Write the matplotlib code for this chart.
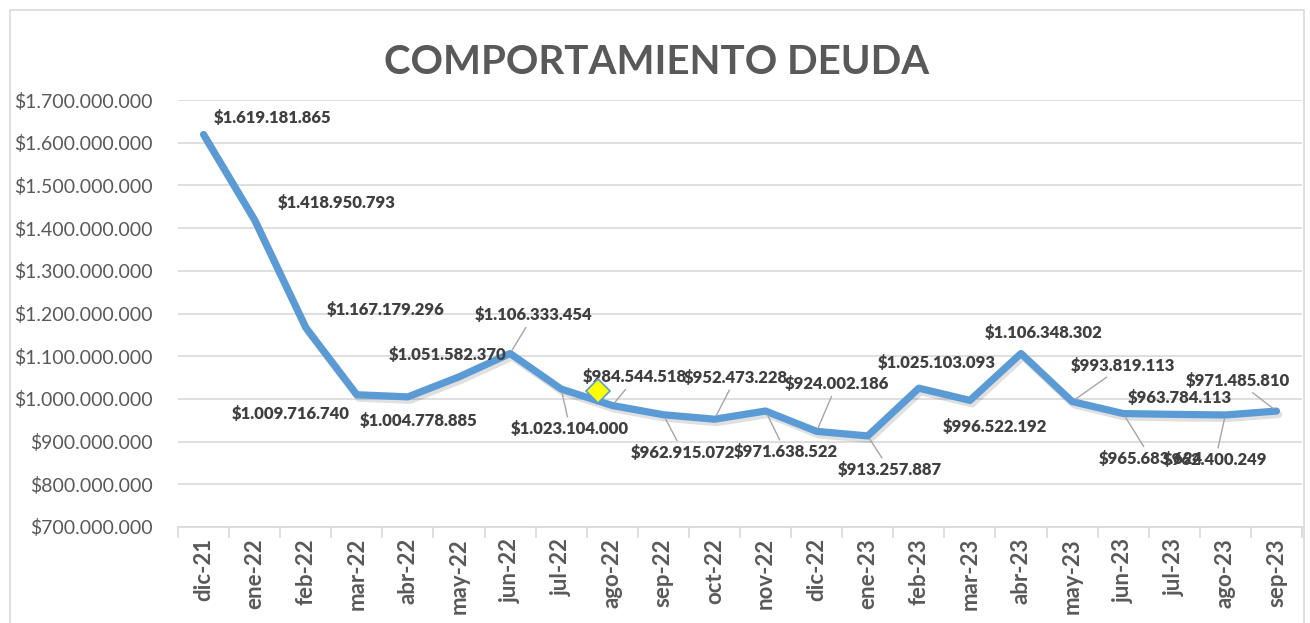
import matplotlib
matplotlib.use('Agg')
import matplotlib.pyplot as plt
import matplotlib.patheffects as pe
from matplotlib.patches import Rectangle
import numpy as np

months = ['dic-21', 'ene-22', 'feb-22', 'mar-22', 'abr-22', 'may-22', 'jun-22', 'jul-22',
          'ago-22', 'sep-22', 'oct-22', 'nov-22', 'dic-22', 'ene-23', 'feb-23', 'mar-23',
          'abr-23', 'may-23', 'jun-23', 'jul-23', 'ago-23', 'sep-23']
deuda = [1619181865, 1418950793, 1167179296, 1009716740, 1004778885, 1051582370,
         1106333454, 1023104000, 984544518, 962915072, 952473228, 971638522,
         924002186, 913257887, 1025103093, 996522192, 1106348302, 993819113,
         965683624, 963784113, 962400249, 971485810]
yticks = np.arange(700_000_000, 1_700_000_001, 100_000_000)

# label offsets in pixels (dx, dy) and whether a leader line is drawn
label_off = [(69, 17), (82, 17), (80, 18), (-66, -19), (11, -24), (-11, 22),
             (23, 38), (9, -40), (23, 28), (20, -38), (21, 41), (20, -41),
             (20, 47), (22, -34), (18, 25), (25, -27), (23, 20), (51, 36),
             (28, -45), (6, 16), (-10, -45), (-39, 30)]
leader = [False, False, False, False, False, False, True, True, True, True, True, True,
          True, True, False, False, False, True, True, False, True, True]

# yellow diamond sitting on the line between jul-22 and ago-22
marker_x = 7.72
marker_y = 1018000000


def fmt(v):
    return '$' + f'{v:,.0f}'.replace(',', '.')


plt.rcParams['font.family'] = ['Lato', 'DejaVu Sans']
W, H = 1310, 623
fig = plt.figure(figsize=(W / 100, H / 100), dpi=100)
fig.patches.append(Rectangle((10 / W, -0.1), (1304 - 10) / W, 1.1 - 10 / H,
                             transform=fig.transFigure, fill=False,
                             edgecolor='#d9d9d9', linewidth=1.2))

ax = fig.add_axes([178 / W, 1 - 527 / H, (1302 - 178) / W, (527 - 100) / H])
x = np.arange(len(months))
ax.plot(x, deuda, color='#5b9bd5', linewidth=5.2, solid_capstyle='round',
        solid_joinstyle='round', zorder=3,
        path_effects=[pe.SimpleLineShadow(offset=(1.5, -2.5), shadow_color='k', alpha=0.12),
                      pe.Normal()])
ax.plot([marker_x], [marker_y], marker='D', markersize=12, color='#ffff00',
        markeredgecolor='#5b9bd5', markeredgewidth=1.2, zorder=5)

for i, v in enumerate(deuda):
    dx, dy = label_off[i]
    props = None
    if leader[i]:
        props = dict(arrowstyle='-', color='#a6a6a6', linewidth=1.0, shrinkA=1, shrinkB=3)
    ax.annotate(fmt(v), (i, v), xytext=(dx, dy), textcoords='offset pixels',
                ha='center', va='center', fontsize=12, fontweight='heavy',
                color='#404040', arrowprops=props, zorder=4)

ax.set_xlim(-0.5, len(months) - 0.5)
ax.set_ylim(700_000_000, 1_700_000_000)
ax.set_yticks(yticks)
ax.set_yticklabels([fmt(v) for v in yticks], fontsize=14, color='#595959')
ax.yaxis.grid(True, color='#d9d9d9', linewidth=1.2)
ax.set_axisbelow(True)
ax.tick_params(axis='y', length=0, pad=18)

ax.set_xticks(x)
ax.set_xticklabels(months, rotation=90, fontsize=16, fontweight='bold', color='#595959')
ax.set_xticks(np.arange(-0.5, len(months)), minor=True)
ax.tick_params(axis='x', which='major', length=0, pad=8)
ax.tick_params(axis='x', which='minor', length=8, color='#d9d9d9', width=1.2)

for s in ['top', 'right', 'left']:
    ax.spines[s].set_visible(False)
ax.spines['bottom'].set_color('#d9d9d9')
ax.spines['bottom'].set_linewidth(1.2)

fig.text(657 / W, 1 - 63 / H, 'COMPORTAMIENTO DEUDA', ha='center', va='center',
         fontsize=29, fontweight='bold', color='#595959')

fig.savefig('out.png', dpi=100)
